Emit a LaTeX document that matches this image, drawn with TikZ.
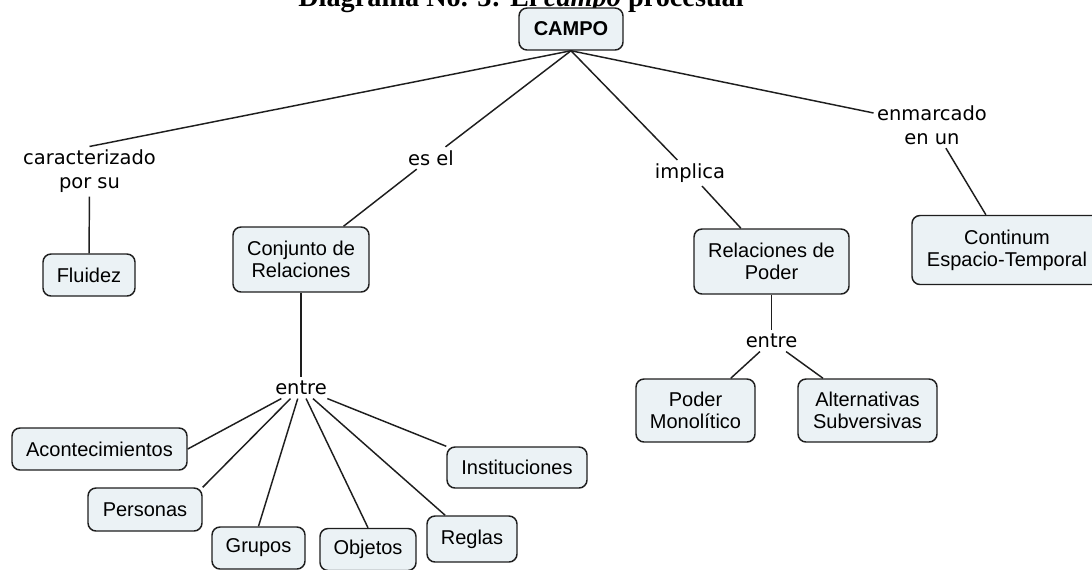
\documentclass[tikz,border=0pt]{standalone}
\usepackage{fontspec}
\newfontfamily\boxfont{Liberation Sans}
\newfontfamily\labfont{DejaVu Sans}
\newfontfamily\titfont{Liberation Serif}
\definecolor{boxfill}{RGB}{235,242,245}
\definecolor{ink}{RGB}{30,30,30}
\begin{document}
\begin{tikzpicture}[x=0.75pt,y=-0.75pt,
  concept/.style={draw=ink, line width=1.1pt, fill=boxfill, rounded corners=6pt, inner sep=0pt, align=center, text=black, font=\boxfont\fontsize{15}{16.5}\selectfont},
  sz/.style 2 args={minimum width=#1*0.75pt, minimum height=#2*0.75pt},
  linkword/.style={inner sep=2.5pt, align=center, text=black, font=\labfont\fontsize{14.6}{18}\selectfont},
  conn/.style={draw=ink, line width=1.1pt}]
\useasboundingbox (0,0) rectangle (1092,569);

\node[anchor=base, font=\titfont\bfseries\fontsize{21.2}{24}\selectfont] (title) at (521,6) {Diagrama No. 3: El \textit{campo} procesual};

\node[concept, sz={104}{42}, font=\boxfont\bfseries\fontsize{15}{16.5}\selectfont] (campo) at (571,29) {CAMPO};

\node[linkword] (lab1) at (89.5,171.5) {caracterizado\\por su};
\node[linkword] (lab2) at (431,158) {es el};
\node[linkword] (lab3) at (690,173) {implica};
\node[linkword] (lab4) at (932,125) {enmarcado\\en un};

\node[concept, sz={92}{42}] (fluidez) at (89,275) {Fluidez};
\node[concept, sz={136}{65}] (conjunto) at (301,259.5) {Conjunto de\\Relaciones};
\node[concept, sz={155}{65}] (relpoder) at (771.5,261.5) {Relaciones de\\Poder};
\node[concept, sz={190}{69}] (continum) at (1007,250) {Continum\\Espacio-Temporal};

\node[linkword] (entre1) at (301,388) {entre};
\node[linkword] (entre2) at (771.5,341) {entre};

\node[concept, sz={119}{63}] (podermono) at (695.5,410.5) {Poder\\Monolítico};
\node[concept, sz={139}{63}] (altsub) at (867.5,410.5) {Alternativas\\Subversivas};

\node[concept, sz={175}{42}] (acont) at (99.5,449) {Acontecimientos};
\node[concept, sz={114}{43}] (personas) at (145,509.5) {Personas};
\node[concept, sz={93}{42}] (grupos) at (258.5,548) {Grupos};
\node[concept, sz={96}{42}] (objetos) at (368,549.5) {Objetos};
\node[concept, sz={90}{46}] (reglas) at (472,539) {Reglas};
\node[concept, sz={140}{41}] (instit) at (517,467.5) {Instituciones};

\draw[conn] (campo.south) -- (lab1.north);
\draw[conn] (campo.south) -- (lab2);
\draw[conn] (campo.south) -- (lab3);
\draw[conn] (campo.south) -- (lab4);
\draw[conn] (lab1) -- (fluidez);
\draw[conn] (lab2) -- (conjunto);
\draw[conn] (lab3) -- (relpoder);
\draw[conn] (lab4) -- (continum);
\draw[conn] (conjunto) -- (entre1);
\draw[conn] (relpoder) -- (entre2);
\draw[conn] (entre2) -- (podermono);
\draw[conn] (entre2) -- (altsub);
\draw[conn] (entre1) -- (acont.east);
\draw[conn] (entre1) -- (personas.north east);
\draw[conn] (entre1) -- (grupos.north);
\draw[conn] (entre1) -- (objetos.north);
\draw[conn] (entre1) -- (reglas);
\draw[conn] (entre1) -- (instit.north west);
\end{tikzpicture}
\end{document}
